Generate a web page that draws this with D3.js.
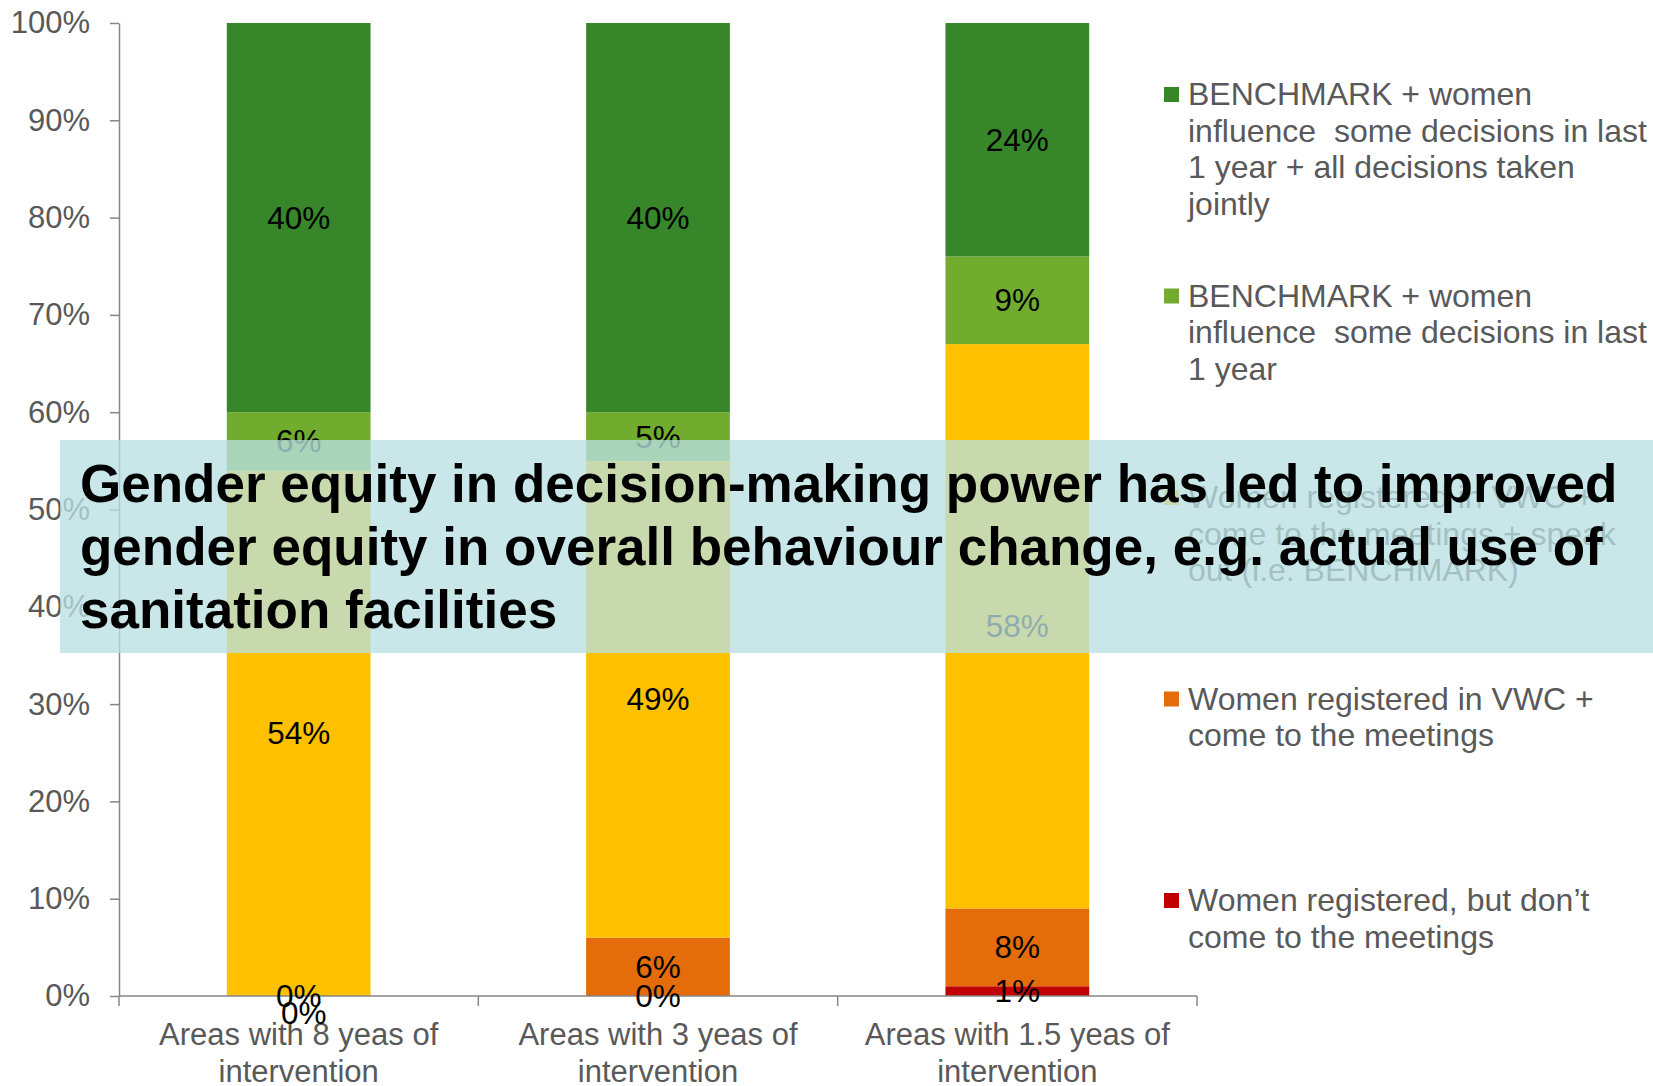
<!DOCTYPE html>
<html lang="en">
<head>
    <meta charset="UTF-8">
    <title>Gender equity stacked bars</title>
    <script src="https://d3js.org/d3.v7.min.js"></script>
    <style>
        body {margin: 0; background: white}
        text {font-family: 'Liberation Sans', Arial, sans-serif; white-space: pre}
        .axis path, .axis line {stroke: #868686; stroke-width: 1.5}
        .axis text {fill: #595959; font-size: 31px}
        .xlab {font-size: 32px}
        .lbl {font-size: 31.5px; fill: black; text-anchor: middle}
        .legend text {fill: #595959; font-size: 32px}
        .headline text {font-weight: bold; font-size: 53px; fill: black}
    </style>
</head>
<body>
<script>
    const width  = 1653;
    const height = 1086;

    // categories (two-line labels)
    const categories = [
        ["Areas with 8 yeas of", "intervention"],
        ["Areas with 3 yeas of", "intervention"],
        ["Areas with 1.5 yeas of", "intervention"]
    ];

    // series, bottom of the stack first (percent)
    const notAttending  = [0, 0, 1];
    const attending     = [0, 6, 8];
    const speakOut      = [54, 49, 58];
    const influence     = [6, 5, 9];
    const jointly       = [40, 40, 24];

    const seriesNames = [
        ["Women registered, but don\u2019t", "come to the meetings"],
        ["Women registered in VWC +", "come to the meetings"],
        ["Women registered in VWC +", "come to the meetings + speak", "out (i.e. BENCHMARK)"],
        ["BENCHMARK + women", "influence  some decisions in last", "1 year"],
        ["BENCHMARK + women", "influence  some decisions in last", "1 year + all decisions taken", "jointly"]
    ];
    const seriesColors = ["#C00000", "#E46C0A", "#FFC000", "#72AC2F", "#38862A"];
    const yTicks = [0, 10, 20, 30, 40, 50, 60, 70, 80, 90, 100];

    const headline = [
        "Gender equity in decision-making power has led to improved",
        "gender equity in overall behaviour change, e.g. actual use of",
        "sanitation facilities"
    ];

    const seriesValues = [notAttending, attending, speakOut, influence, jointly];
    const table = categories.map((c, i) => {
        const row = {key: i};
        seriesValues.forEach((s, j) => row["s" + j] = s[i]);
        return row;
    });
    const keys = seriesValues.map((s, j) => "s" + j);
    const stacked = d3.stack().keys(keys)(table);

    const svg = d3.select("body").append("svg")
            .attr("width", width).attr("height", height);

    const x = d3.scaleBand()
            .domain(d3.range(categories.length))
            .range([119, 1197])
            .paddingInner(0.6)
            .paddingOuter(0.3);

    const y = d3.scaleLinear().domain([0, 100]).range([996, 23]);

    // bars
    svg.append("g").selectAll("g")
        .data(stacked).join("g")
        .attr("fill", (d, i) => seriesColors[i])
        .selectAll("rect")
        .data(d => d).join("rect")
        .attr("x", d => x(d.data.key))
        .attr("width", x.bandwidth())
        .attr("y", d => y(d[1]))
        .attr("height", d => y(d[0]) - y(d[1]));

    // y axis
    svg.append("g").attr("class", "axis")
        .attr("transform", "translate(119,0)")
        .call(d3.axisLeft(y).tickValues(yTicks).tickFormat(d => d + "%")
            .tickSize(9).tickSizeOuter(0).tickPadding(20));

    // x axis: line plus ticks at the band boundaries
    const xa = svg.append("g").attr("class", "axis");
    xa.append("line")
        .attr("x1", 119).attr("x2", 1197)
        .attr("y1", y(0)).attr("y2", y(0));
    const bounds = d3.range(categories.length + 1).map(i => x.range()[0] + i * x.step());
    xa.selectAll("line.tk").data(bounds).join("line").attr("class", "tk")
        .attr("x1", d => d).attr("x2", d => d)
        .attr("y1", y(0)).attr("y2", y(0) + 10);
    xa.selectAll("text").data(categories).join("text")
        .attr("class", "xlab")
        .attr("text-anchor", "middle")
        .attr("transform", (d, i) => `translate(${x(i) + x.bandwidth() / 2},1045)`)
        .selectAll("tspan").data(d => d).join("tspan")
        .attr("x", 0).attr("y", (d, i) => i * 37)
        .text(d => d);

    // data labels; labels that would sit on top of another get nudged down
    const labels = svg.append("g");
    categories.forEach((c, ci) => {
        let prev = null;
        stacked.forEach(s => {
            const d = s[ci];
            let cx = x(ci) + x.bandwidth() / 2;
            let cy = y((d[0] + d[1]) / 2);
            if (prev !== null && Math.abs(prev - cy) < 12) {
                cx += 5;
                cy += 17;
            }
            prev = cy;
            labels.append("text").attr("class", "lbl")
                .attr("x", cx).attr("y", cy).attr("dy", "0.35em")
                .text(d[1] - d[0] + "%");
        });
    });

    // legend, top entry is the top of the stack
    const legend = svg.append("g").attr("class", "legend");
    const order = d3.range(seriesNames.length).reverse();
    order.forEach((si, i) => {
        const gy = 94 + i * 201.5;
        const g = legend.append("g").attr("transform", `translate(1164,${gy})`);
        g.append("rect").attr("x", 0).attr("y", -7).attr("width", 15).attr("height", 15)
            .attr("fill", seriesColors[si]);
        g.append("text").selectAll("tspan").data(seriesNames[si]).join("tspan")
            .attr("x", 24).attr("y", (d, k) => k * 36.5).attr("dy", "0.35em")
            .text(d => d);
    });

    // headline banner over the chart
    const hl = svg.append("g").attr("class", "headline");
    hl.append("rect")
        .attr("x", 60).attr("y", 440).attr("width", width - 60).attr("height", 213)
        .attr("fill", "#B9E0E2").attr("opacity", 0.77);
    hl.append("text").selectAll("tspan").data(headline).join("tspan")
        .attr("x", 80).attr("y", (d, i) => 483 + i * 63).attr("dy", "0.35em")
        .text(d => d);
</script>
</body>
</html>
